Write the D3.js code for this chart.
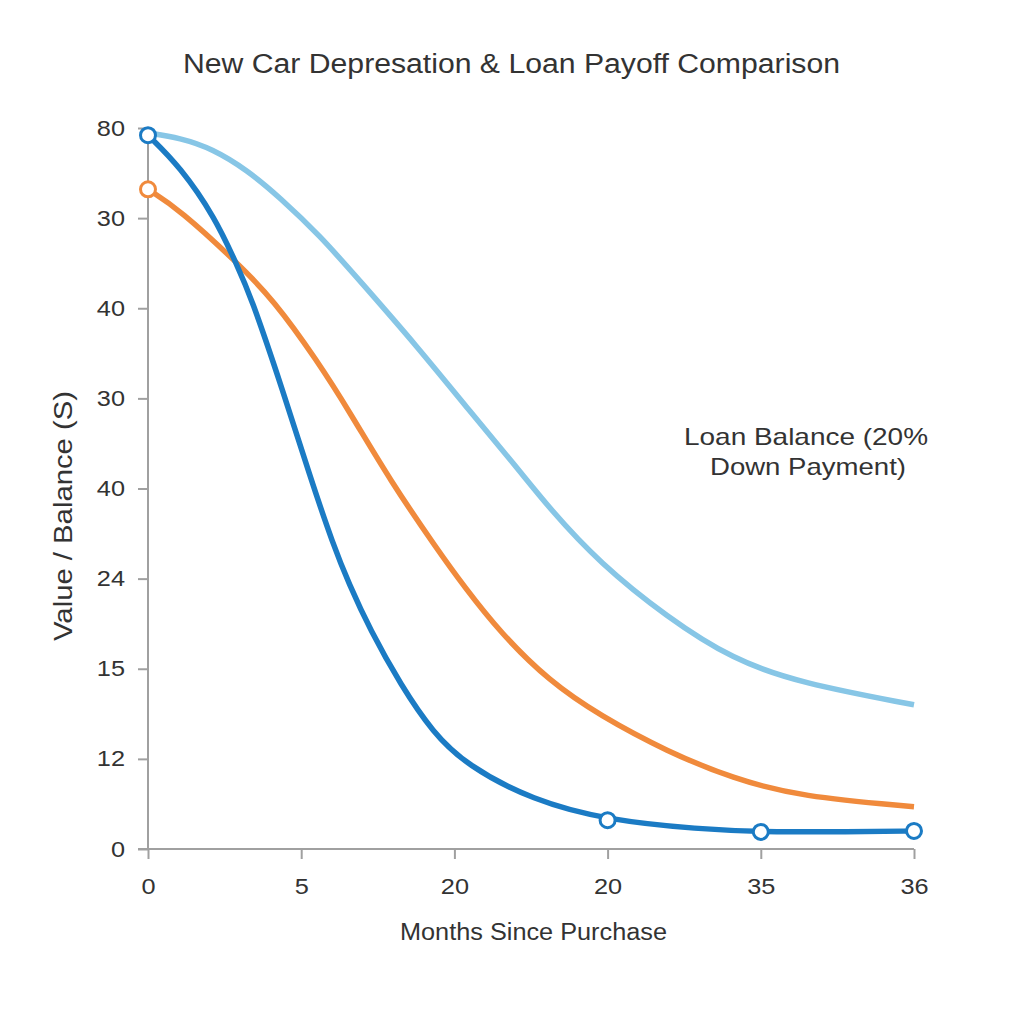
<!DOCTYPE html>
<html>
<head>
<meta charset="utf-8">
<script src="https://cdn.jsdelivr.net/npm/d3@7"></script>
<style>
  html, body { margin: 0; padding: 0; background: #fff; }
  svg { display: block; font-family: "Liberation Sans", Arial, sans-serif; }
</style>
</head>
<body>
<svg id="chart" width="1024" height="1024"></svg>
<script>
// ---- data (x = tick slot position 0..5, y = value in axis units, one gridline = 10) ----
const xTickLabels = ["0", "5", "20", "20", "35", "36"];
const yTickLabels = ["0", "12", "15", "24", "40", "30", "40", "30", "80"];
const yTickValues = [0, 10, 20, 30, 40, 50, 60, 70, 80];

const carValue = [ // dark blue
  [0, 79.2], [0.21, 75.7], [0.44, 70.0], [0.58, 64.8], [0.67, 61.4], [0.88, 50.9],
  [1.06, 41.2], [1.21, 33.7], [1.31, 29.5], [1.45, 24.3], [1.65, 18.2], [1.86, 12.9],
  [2.08, 9.3], [2.51, 5.4], [3.0, 3.2], [3.6, 2.2], [4.0, 1.9], [4.58, 1.9], [5.0, 2.0]
];
const loanBalance = [ // orange
  [0, 73.2], [0.21, 70.9], [0.58, 65.1], [0.82, 60.9], [1.10, 54.3], [1.32, 48.4],
  [1.58, 40.9], [1.89, 33.2], [2.06, 29.2], [2.30, 24.0], [2.62, 18.6], [2.95, 14.8],
  [3.39, 10.8], [3.82, 7.8], [4.26, 5.8], [5.0, 4.7]
];
const loanBalance20 = [ // light blue
  [0, 79.45], [0.21, 78.9], [0.42, 77.7], [0.65, 75.3], [0.86, 72.3], [1.12, 68.1],
  [1.38, 63.1], [1.76, 55.7], [2.08, 49.0], [2.41, 42.3], [2.62, 37.8], [2.95, 31.7],
  [3.39, 25.7], [3.82, 21.0], [4.26, 18.4], [5.0, 16.0]
];
const carValueMarkers = [[0, 79.2], [3.0, 3.2], [4.0, 1.9], [5.0, 2.0]];
const loanBalanceMarkers = [[0, 73.2]];

const titleText = "New Car Depresation & Loan Payoff Comparison";
const xTitle = "Months Since Purchase";
const yTitle = "Value / Balance (S)";
const annotationLines = ["Loan Balance (20%", "Down Payment)"];

// ---- drawing ----
const svg = d3.select("#chart");
const x = d3.scaleLinear().domain([0, 5]).range([148, 914]);
const y = d3.scaleLinear().domain([0, 80]).range([849, 128]);

const axisColor = "#a0a0a0";
const textColor = "#333";
const stretch = 1.15;

function fitWidth(sel, w) {
  sel.attr("textLength", w).attr("lengthAdjust", "spacingAndGlyphs");
}

svg.append("text")
  .attr("x", 511.5).attr("y", 73)
  .attr("text-anchor", "middle")
  .attr("font-size", 27).attr("fill", textColor)
  .text(titleText).call(fitWidth, 657);

const yAxis = svg.append("g").attr("transform", "translate(148,0)")
  .call(d3.axisLeft(y).tickValues(yTickValues).tickSize(10).tickPadding(13)
    .tickFormat((d, i) => yTickLabels[i]));
const xAxis = svg.append("g").attr("transform", "translate(0,849)")
  .call(d3.axisBottom(x).tickValues([0, 1, 2, 3, 4, 5]).tickSize(10).tickPadding(19)
    .tickFormat((d, i) => xTickLabels[i]));

[yAxis, xAxis].forEach(g => {
  g.select(".domain").attr("stroke", axisColor).attr("stroke-width", 2);
  g.selectAll(".tick line").attr("stroke", axisColor).attr("stroke-width", 2);
  g.selectAll(".tick text").attr("fill", textColor).attr("font-size", 22)
    .attr("font-family", "'Liberation Sans', Arial, sans-serif")
    .each(function () {
      const len = this.getComputedTextLength();
      d3.select(this).call(fitWidth, len * stretch);
    });
});
xAxis.select(".domain").attr("d", "M138,0H914");
yAxis.select(".domain").attr("d", "M0,849V128");

const line = d3.line().x(d => x(d[0])).y(d => y(d[1])).curve(d3.curveBasis);

const series = [
  { data: loanBalance20, color: "#87c6e6" },
  { data: loanBalance, color: "#f08a3c" },
  { data: carValue, color: "#1b7bc4" }
];
series.forEach(s => {
  svg.append("path").datum(s.data)
    .attr("d", line).attr("fill", "none")
    .attr("stroke", s.color).attr("stroke-width", 5.5);
});

svg.selectAll("circle.o").data(loanBalanceMarkers).enter().append("circle")
  .attr("cx", d => x(d[0])).attr("cy", d => y(d[1])).attr("r", 7.5)
  .attr("fill", "#fff").attr("stroke", "#f08a3c").attr("stroke-width", 3);
svg.selectAll("circle.b").data(carValueMarkers).enter().append("circle")
  .attr("cx", d => x(d[0])).attr("cy", d => y(d[1])).attr("r", 7.5)
  .attr("fill", "#fff").attr("stroke", "#1b7bc4").attr("stroke-width", 3);

svg.append("text")
  .attr("x", 533.5).attr("y", 940)
  .attr("text-anchor", "middle").attr("font-size", 23).attr("fill", textColor)
  .text(xTitle).call(fitWidth, 267);

svg.append("text")
  .attr("transform", "translate(72,516) rotate(-90)")
  .attr("text-anchor", "middle").attr("font-size", 25).attr("fill", textColor)
  .text(yTitle).call(fitWidth, 250);

const annWidths = [244, 196];
const annX = [806, 808];
annotationLines.forEach((t, i) => {
  svg.append("text").attr("font-size", 24).attr("fill", textColor)
    .attr("text-anchor", "middle")
    .attr("x", annX[i]).attr("y", 445 + i * 30)
    .text(t).call(fitWidth, annWidths[i]);
});
</script>
</body>
</html>
